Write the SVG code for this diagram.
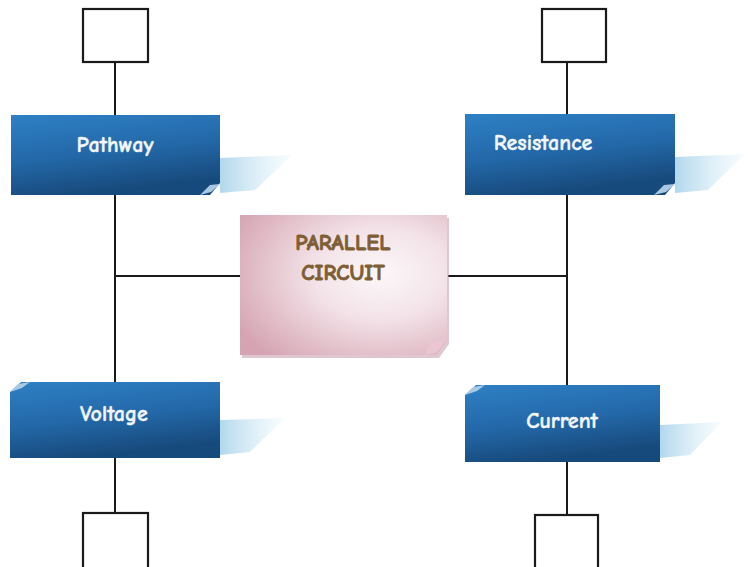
<svg xmlns="http://www.w3.org/2000/svg" width="755" height="567" viewBox="0 0 755 567">
<defs>
<linearGradient id="blue" x1="0" y1="0" x2="0.3" y2="1">
<stop offset="0" stop-color="#2e80c4"/>
<stop offset="0.55" stop-color="#2368a8"/>
<stop offset="1" stop-color="#174a7c"/>
</linearGradient>
<linearGradient id="shade" x1="0" y1="0" x2="1" y2="0">
<stop offset="0" stop-color="#a9d3ea" stop-opacity="0.9"/>
<stop offset="1" stop-color="#d8eef8" stop-opacity="0.2"/>
</linearGradient>
<radialGradient id="pink" cx="0.68" cy="0.42" r="0.8">
<stop offset="0" stop-color="#fcf7f8"/>
<stop offset="0.4" stop-color="#f3e3e8"/>
<stop offset="1" stop-color="#d5a3b2"/>
</radialGradient>
<style>
.ln{stroke:#1a1a1a;stroke-width:2;fill:none}
.sq{stroke:#1a1a1a;stroke-width:2.2;fill:#ffffff}
.bl{fill:url(#blue)}
.sh{fill:url(#shade)}
.curl{fill:#a8c8e4}
.lbl{font-family:"Comic Sans MS","Comic Neue","DejaVu Sans",sans-serif;font-size:22px;font-weight:bold;fill:#f2f6fa;stroke:#f2f6fa;stroke-width:0.4;text-anchor:middle}
.pc{font-family:"Comic Sans MS","Comic Neue","DejaVu Sans",sans-serif;font-size:22px;font-weight:bold;fill:#7e5e34;stroke:#7e5e34;stroke-width:0.8;text-anchor:middle}
</style>
</defs>
<rect width="755" height="567" fill="#ffffff"/>
<g id="connectors">
<line class="ln" x1="115" y1="62" x2="115" y2="115"/>
<line class="ln" x1="115" y1="195" x2="115" y2="382"/>
<line class="ln" x1="115" y1="276" x2="240" y2="276"/>
<line class="ln" x1="115" y1="458" x2="115" y2="513"/>
<line class="ln" x1="567" y1="62" x2="567" y2="114"/>
<line class="ln" x1="567" y1="195" x2="567" y2="385"/>
<line class="ln" x1="448" y1="276" x2="567" y2="276"/>
<line class="ln" x1="567" y1="462" x2="567" y2="515"/>
</g>
<g id="box-tl"><rect class="sq" x="83" y="9" width="65" height="53"/></g>
<g id="box-tr"><rect class="sq" x="542" y="9" width="64" height="53"/></g>
<g id="box-bl"><rect class="sq" x="83" y="513" width="65" height="56"/></g>
<g id="box-br"><rect class="sq" x="535" y="515" width="63" height="54"/></g>
<g id="pathway">
<polygon class="sh" points="220,158 292,155 255,190 220,193"/>
<polygon class="bl" points="11,115 220,115 220,183 210,195 11,195"/>
<polygon class="curl" points="200,195 210,185 220,184 211,192"/>
<text class="lbl" x="115" y="152">Pathway</text>
</g>
<g id="resistance">
<polygon class="sh" points="675,157 745,154 708,190 675,193"/>
<polygon class="bl" points="465,114 675,114 675,183 665,195 465,195"/>
<polygon class="curl" points="654,195 664,185 675,184 666,192"/>
<text class="lbl" x="543" y="150">Resistance</text>
</g>
<g id="voltage">
<polygon class="sh" points="220,420 285,418 250,452 220,455"/>
<polygon class="bl" points="21,382 220,382 220,458 10,458 10,392"/>
<polygon class="curl" points="10,392 18,384 30,382 22,388"/>
<text class="lbl" x="114" y="421">Voltage</text>
</g>
<g id="current">
<polygon class="sh" points="660,425 722,422 690,455 660,458"/>
<polygon class="bl" points="476,385 660,385 660,462 465,462 465,395"/>
<polygon class="curl" points="465,395 473,387 485,385 477,391"/>
<text class="lbl" x="562" y="428">Current</text>
</g>
<g id="parallel-circuit">
<polygon points="242,218 449,218 449,344 439,358 242,358" fill="#c0909f" opacity="0.5"/>
<polygon points="240,215 447,215 447,340 437,355 240,355" fill="url(#pink)"/>
<polygon points="425,355 430,342 447,338 437,352" fill="#e9c6d2"/>
<text class="pc" x="343" y="250">PARALLEL</text>
<text class="pc" x="343" y="280">CIRCUIT</text>
</g>
</svg>
